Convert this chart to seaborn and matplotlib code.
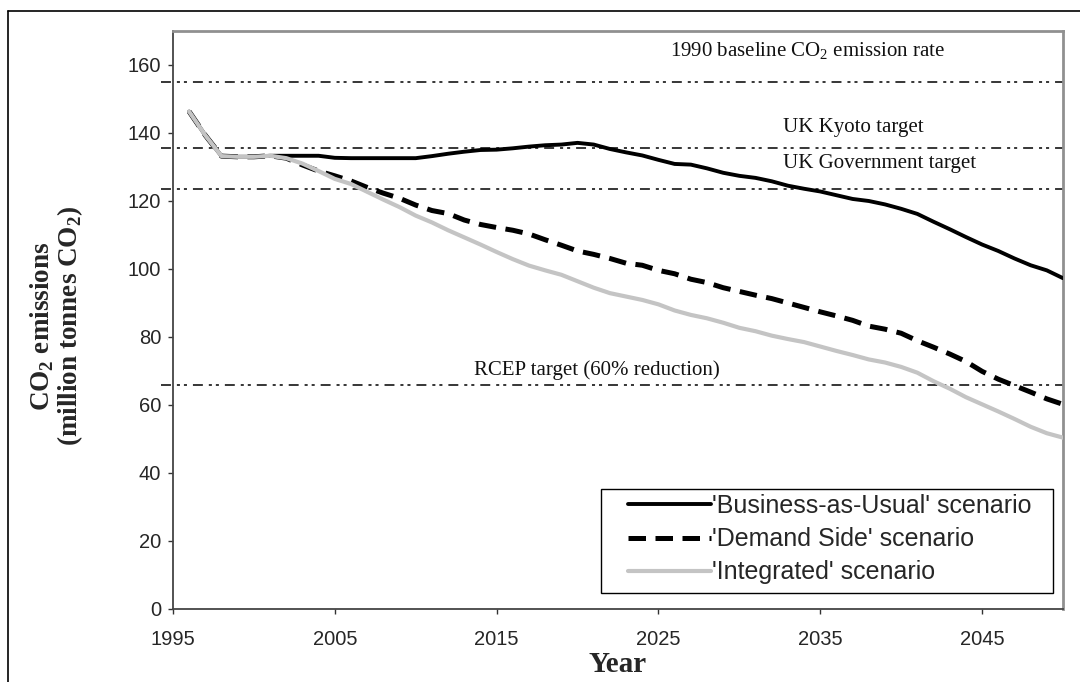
import matplotlib
matplotlib.use("Agg")
import matplotlib.pyplot as plt
import seaborn as sns
import pandas as pd
from matplotlib.lines import Line2D
from matplotlib.patches import Rectangle

# =========================
# DATA
# =========================
years = list(range(1996, 2051))

bau = [146.3, 139.3, 133.2, 133.0, 133.0, 133.3, 133.3, 133.3, 133.3, 132.7,
       132.6, 132.6, 132.6, 132.6, 132.6, 133.2, 133.9, 134.5, 135.0, 135.1,
       135.5, 136.0, 136.4, 136.6, 137.1, 136.6, 135.3, 134.3, 133.4, 132.1,
       130.9, 130.7, 129.6, 128.3, 127.4, 126.8, 125.8, 124.5, 123.6, 122.8,
       121.7, 120.6, 120.0, 119.0, 117.7, 116.2, 113.9, 111.7, 109.4, 107.2,
       105.3, 103.1, 101.1, 99.6, 97.3]

demand = [146.3, 139.3, 133.2, 133.0, 133.0, 133.3, 132.6, 130.6, 128.8, 127.4,
          125.9, 124.0, 122.3, 120.8, 118.8, 117.2, 116.3, 114.4, 113.1, 112.2,
          111.4, 110.3, 108.6, 107.0, 105.3, 104.3, 103.1, 101.7, 101.1, 99.6,
          98.6, 97.0, 96.0, 94.5, 93.4, 92.3, 91.3, 90.0, 88.7, 87.4,
          86.2, 84.9, 83.2, 82.3, 81.1, 78.9, 77.0, 75.0, 72.8, 69.9,
          67.6, 65.7, 63.8, 61.8, 60.2]

integrated = [146.3, 139.3, 133.2, 133.0, 133.0, 133.3, 132.6, 131.0, 128.8, 126.5,
              125.0, 122.7, 120.4, 118.2, 115.7, 113.7, 111.4, 109.3, 107.2, 105.0,
              102.9, 101.0, 99.6, 98.3, 96.4, 94.5, 92.9, 91.9, 90.9, 89.6,
              87.8, 86.5, 85.5, 84.2, 82.7, 81.7, 80.4, 79.4, 78.5, 77.2,
              75.9, 74.7, 73.4, 72.5, 71.2, 69.5, 67.0, 64.8, 62.3, 60.2,
              58.1, 55.9, 53.6, 51.7, 50.4]

series_labels = ["'Business-as-Usual' scenario", "'Demand Side' scenario",
                 "'Integrated' scenario"]

target_values = [155, 135.5, 123.5, 66]
target_labels = ["1990 baseline CO$_2$ emission rate", "UK Kyoto target",
                 "UK Government target", "RCEP target (60% reduction)"]
target_label_x = [2034.2, 2032.7, 2032.7, 2013.6]
target_label_y = [164.0, 141.7, 130.9, 70.3]
target_label_ha = ["center", "left", "left", "left"]

x_ticks = [1995, 2005, 2015, 2025, 2035, 2045]
y_ticks = [0, 20, 40, 60, 80, 100, 120, 140, 160]

df = pd.DataFrame({"year": years, "bau": bau, "demand": demand,
                   "integrated": integrated})

# =========================
# STYLE
# =========================
sns.set_style("white")
plt.rcParams["font.family"] = ["Liberation Sans", "DejaVu Sans"]
plt.rcParams["mathtext.fontset"] = "custom"
plt.rcParams["mathtext.rm"] = "Liberation Serif"
plt.rcParams["mathtext.bf"] = "Liberation Serif:bold"

fig = plt.figure(figsize=(10.8, 6.82), dpi=100)
ax = fig.add_axes([173 / 1080, 73 / 682, 890 / 1080, 578 / 682])

# =========================
# TARGET LINES
# =========================
for val in target_values:
    ax.axhline(val, xmin=-0.014, xmax=1, color="black", lw=1.1,
               linestyle=(0, (6.5, 3.9, 2, 2.6, 2, 3.9)), clip_on=False, zorder=1)

for lab, tx, ty, ha in zip(target_labels, target_label_x, target_label_y, target_label_ha):
    ax.text(tx, ty, lab, ha=ha, va="center", fontsize=15,
            family="Liberation Serif", color="#111111")

# =========================
# SCENARIOS
# =========================
sns.lineplot(data=df, x="year", y="bau", ax=ax, color="black", lw=2.8,
             label=series_labels[0], zorder=3)
sns.lineplot(data=df, x="year", y="demand", ax=ax, color="black", lw=3.6,
             label=series_labels[1], zorder=3)
ax.lines[-1].set_dashes((3.5, 1.9))
sns.lineplot(data=df, x="year", y="integrated", ax=ax, color="#c4c4c4", lw=3.0,
             label=series_labels[2], zorder=4)

# =========================
# AXES
# =========================
ax.set_xlim(1995, 2050)
ax.set_ylim(0, 170)
ax.set_xticks(x_ticks)
ax.set_yticks(y_ticks)
ax.tick_params(axis="both", direction="out", length=3.5, width=1, color="#333333",
               labelsize=14.5, left=True, bottom=True)
ax.tick_params(axis="x", pad=11.5)
ax.tick_params(axis="y", pad=5)

for side in ["left", "bottom"]:
    ax.spines[side].set_color("#444444")
    ax.spines[side].set_linewidth(1.3)
for side in ["top", "right"]:
    ax.spines[side].set_color("#909090")
    ax.spines[side].set_linewidth(2.0)

ax.set_xlabel("Year", family="Liberation Serif", fontweight="bold", fontsize=21)
ax.xaxis.set_label_coords(0.5, (609 - 665) / 578)
ax.xaxis.label.set_va("center")

ax.set_ylabel("CO$_\\mathbf{2}$ emissions\n(million tonnes CO$_\\mathbf{2}$)",
              family="Liberation Serif", fontweight="bold", fontsize=19.5,
              linespacing=0.98)
ax.yaxis.set_label_coords((57 - 173) / 890, 0.49)
ax.yaxis.label.set_va("center")

# legend: entries without frame, box drawn separately to match the spacing
leg = ax.legend(loc="upper left", bbox_to_anchor=((628 - 173) / 890, (609 - 494) / 578),
                borderaxespad=0, borderpad=0, fontsize=18, frameon=False,
                handlelength=3.3, handletextpad=0.05, labelspacing=0.37)
leg.set_zorder(7)
ax.add_patch(Rectangle(((601 - 173) / 890, (609 - 593) / 578), 452 / 890, 104 / 578,
                       transform=ax.transAxes, facecolor="white", edgecolor="black",
                       lw=1.0, zorder=6))

# outer border of the figure
fig.add_artist(Line2D([8 / 1080, 1.0], [1 - 11 / 682, 1 - 11 / 682],
                      transform=fig.transFigure, color="black", lw=1.2))
fig.add_artist(Line2D([8 / 1080, 8 / 1080], [0.0, 1 - 11 / 682],
                      transform=fig.transFigure, color="black", lw=1.2))

plt.savefig("out.png", dpi=100)
